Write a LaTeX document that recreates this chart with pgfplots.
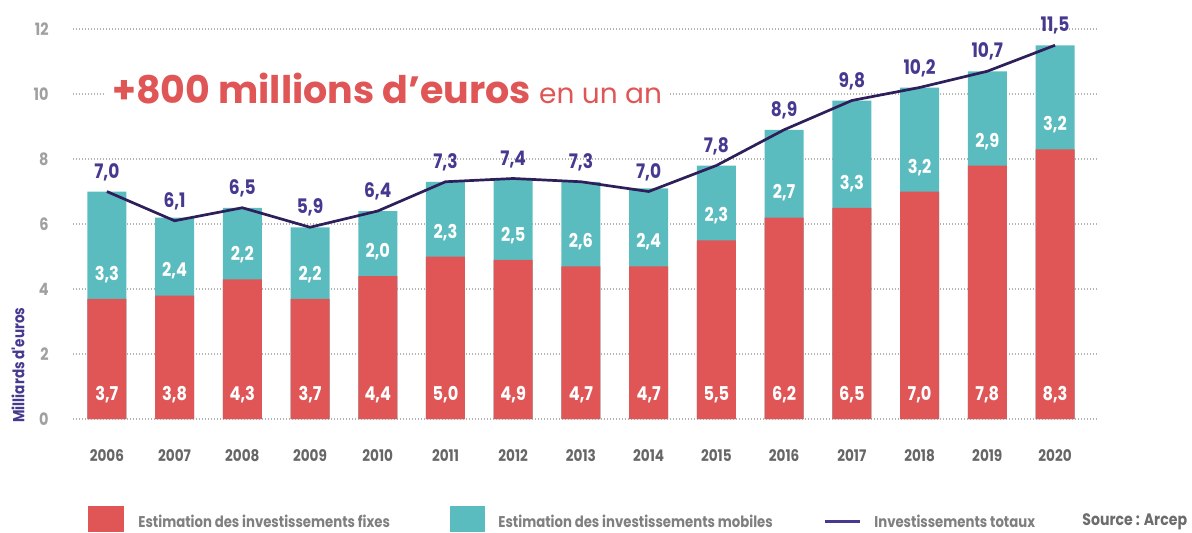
\documentclass[border=0pt]{standalone}
\usepackage{fontspec}
\setmainfont{Poppins}
\newfontfamily\numfont[FakeStretch=0.85]{Poppins}
\usepackage{pgfplots}
\usepackage{pgfplotstable}
\pgfplotsset{compat=1.18}
\definecolor{cred}{HTML}{E05555}
\definecolor{cteal}{HTML}{5BBCC0}
\definecolor{cline}{HTML}{2E1F5A}
\definecolor{cpurple}{HTML}{453A8F}
\definecolor{ctick}{HTML}{A0A0A0}
\definecolor{cyear}{HTML}{666666}
\definecolor{clegend}{HTML}{7F7F7F}

\pgfplotstableread{
x year fix mob tot
0 2006 3.7 3.3 7.0
1 2007 3.8 2.4 6.1
2 2008 4.3 2.2 6.5
3 2009 3.7 2.2 5.9
4 2010 4.4 2.0 6.4
5 2011 5.0 2.3 7.3
6 2012 4.9 2.5 7.4
7 2013 4.7 2.6 7.3
8 2014 4.7 2.4 7.0
9 2015 5.5 2.3 7.8
10 2016 6.2 2.7 8.9
11 2017 6.5 3.3 9.8
12 2018 7.0 3.2 10.2
13 2019 7.8 2.9 10.7
14 2020 8.3 3.2 11.5
}\data

\begin{document}
\begin{tikzpicture}
\path[use as bounding box] (0,0) rectangle (596pt,266pt);
\begin{axis}[
  at={(36.5pt,56.5pt)}, anchor=south west,
  scale only axis, width=512pt, height=195pt,
  xmin=-0.5, xmax=14.62, ymin=0, ymax=12,
  clip=false,
  axis line style={draw=none},
  major tick style={draw=none},
  ytick={0,2,4,6,8,10,12},
  xtick={0,...,14},
  xticklabels={2006,2007,2008,2009,2010,2011,2012,2013,2014,2015,2016,2017,2018,2019,2020},
  /pgf/number format/assume math mode=true,
  ymajorgrids,
  grid style={ctick!80, line width=0.6pt, dash pattern=on 0.5pt off 1pt},
  yticklabel style={anchor=east, inner sep=0pt, xshift=-12pt, text=ctick, font=\numfont\bfseries\fontsize{8.5}{10}\selectfont},
  xticklabel style={anchor=center, inner sep=0pt, yshift=-18.5pt, text=cyear, font=\numfont\bfseries\fontsize{8}{10}\selectfont},
]
\addplot[ybar, bar shift=0pt, bar width=19.5pt, fill=cteal, draw=none]
  table[x=x, y expr=\thisrow{fix}+\thisrow{mob}] {\data};
\addplot[ybar, bar shift=0pt, bar width=19.5pt, fill=cred, draw=none]
  table[x=x, y=fix] {\data};
\addplot[sharp plot, color=cline, line width=1.35pt, mark=none,
  nodes near coords={\pgfmathprintnumber[fixed,fixed zerofill,precision=1,use comma]{\pgfplotspointmeta}},
  point meta=\thisrow{tot},
  nodes near coords style={anchor=center, yshift=9.75pt, text=cpurple, font=\numfont\bfseries\fontsize{10}{12}\selectfont}]
  table[x=x, y=tot] {\data};
\addplot[draw=none, mark=none,
  nodes near coords={\pgfmathprintnumber[fixed,fixed zerofill,precision=1,use comma]{\pgfplotspointmeta}},
  point meta=\thisrow{fix},
  nodes near coords style={anchor=center, text=white, font=\numfont\bfseries\fontsize{9.5}{11}\selectfont}]
  table[x=x, y expr=0.74] {\data};
\addplot[draw=none, mark=none,
  nodes near coords={\pgfmathprintnumber[fixed,fixed zerofill,precision=1,use comma]{\pgfplotspointmeta}},
  point meta=\thisrow{mob},
  nodes near coords style={anchor=center, text=white, font=\numfont\bfseries\fontsize{9.5}{11}\selectfont}]
  table[x=x, y expr=\thisrow{fix}+0.75] {\data};
\end{axis}
% title
\node[anchor=base west, fill=white, inner xsep=3pt, inner ysep=4pt, text=cred]
  at (53pt,214.5pt) {\bfseries\fontsize{19}{22}\selectfont +800 millions d’euros\ \mdseries\fontsize{14}{18}\selectfont en un an};
% y label
\node[rotate=90, text=cpurple, font=\numfont\bfseries\fontsize{8}{10}\selectfont] at (9pt,83.5pt) {Milliards d'euros};
% legend
\fill[cred] (44pt,0pt) rectangle (62pt,13pt);
\node[anchor=west, inner sep=0pt, text=clegend, font=\numfont\bfseries\fontsize{7.8}{9}\selectfont] at (69pt,5.3pt) {Estimation des investissements fixes};
\fill[cteal] (225pt,0pt) rectangle (242.5pt,13pt);
\node[anchor=west, inner sep=0pt, text=clegend, font=\numfont\bfseries\fontsize{7.8}{9}\selectfont] at (249pt,5.3pt) {Estimation des investissements mobiles};
\draw[cpurple, line width=1.5pt] (412.5pt,5.5pt) -- (430pt,5.5pt);
\node[anchor=west, inner sep=0pt, text=clegend, font=\numfont\bfseries\fontsize{7.8}{9}\selectfont] at (437pt,5.3pt) {Investissements totaux};
\node[anchor=west, inner sep=0pt, text=clegend!85!black, font=\numfont\bfseries\fontsize{8.3}{10}\selectfont] at (541pt,5.3pt) {Source : Arcep};
\end{tikzpicture}
\end{document}
